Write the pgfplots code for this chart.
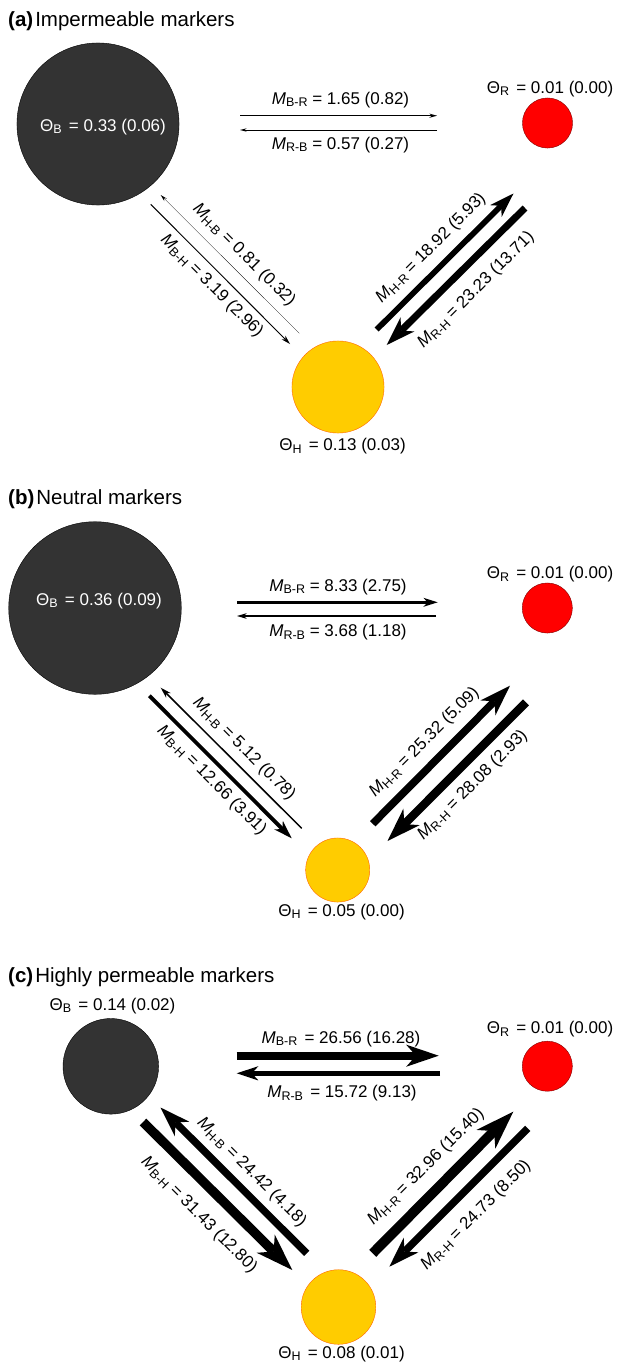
\documentclass[border=0pt]{standalone}
\usepackage{pgfplots}
\pgfplotsset{compat=1.18}
\usepackage{pgfplotstable}
\usetikzlibrary{arrows.meta}
\usepackage{fontspec}
\setmainfont{Liberation Sans}

\definecolor{colB}{HTML}{333333}
\definecolor{colR}{HTML}{FF0000}
\definecolor{colRline}{HTML}{800000}
\definecolor{colH}{HTML}{FFCC00}
\definecolor{colHline}{HTML}{FF6600}

\newcommand\sub[1]{\raisebox{-0.32ex}{\fontsize{12.5}{13}\selectfont #1}}
\newcommand\lab{\fontsize{17}{20}\selectfont}
\newcommand\ttl{\fontsize{20.5}{24}\selectfont}

% compartment occupancies: centre (x,y), Theta and outline width
\pgfplotstableread{
x     y      theta lw
98    124    0.33  2.0
95    608    0.36  2.0
110.8 1066.3 0.14  1.2
}\nodeB
\pgfplotstableread{
x     y      theta lw
547.5 123    0.01  0.8
547.3 608    0.01  0.8
547.3 1066.2 0.01  0.8
}\nodeR
\pgfplotstableread{
x     y      theta lw
338   387    0.13  1.0
337.7 870    0.05  1.0
338.5 1307   0.08  1.0
}\nodeH

\tikzset{
  lbl/.style={font=\lab, inner sep=0pt},
  ttlnode/.style={font=\ttl, inner sep=0pt, anchor=base west},
}

\pgfplotsset{
  compartment/.style n args={2}{scatter, only marks, mark=*,
    visualization depends on={23.3+175*\thisrow{theta} \as \rad},
    visualization depends on={\thisrow{lw} \as \olw},
    scatter/use mapped color={draw=#2, fill=#1},
    scatter/@pre marker code/.append style={/tikz/mark size=\rad, /tikz/line width=\olw}},
  % occupancy written inside a compartment, set as a text mark so that
  % it is painted after the compartment marks
  inlabel/.style={only marks, mark=text, text mark={#1}, text mark as node=true,
    text mark style={font=\lab, text=white, anchor=base, inner sep=0pt}},
  % migration rate M sets shaft width and head size
  flow/.style={
    /utils/exec={%
      \pgfmathsetmacro\flowlw{0.3*#1}%
      \pgfmathsetmacro\flowhl{6+#1}%
      \pgfmathsetmacro\flowhw{3+0.72*#1}%
      \pgfmathsetmacro\flowin{0.3*(6+#1)}},
    draw=black, no markers, line width=\flowlw pt,
    -{Stealth[length=\flowhl pt, width=\flowhw pt, inset=\flowin pt, line width=0pt]}},
}

\begin{document}
\begin{tikzpicture}
\begin{axis}[x=1pt, y=1pt, xmin=0, xmax=616, ymin=0, ymax=1363,
  y dir=reverse, hide axis, clip=false]

\addplot[draw=none, forget plot] coordinates {(0,0) (616,1363)};

% ---------- (a) impermeable markers ----------
\addplot[flow=1.65]  coordinates {(240,115.7) (437,115.7)};
\addplot[flow=0.57]  coordinates {(437,130) (240,130)};
\addplot[flow=0.81]  coordinates {(299.3,333.3) (160.7,195)};
\addplot[flow=3.19]  coordinates {(150.7,204.3) (290,344)};
\addplot[flow=18.92] coordinates {(376.7,329.5) (513.5,193.5)};
\addplot[flow=23.23] coordinates {(525,208) (386.7,345)};

% ---------- (b) neutral markers ----------
\addplot[flow=8.33]  coordinates {(237,602.3) (437.7,602.3)};
\addplot[flow=3.68]  coordinates {(436,616) (237,616)};
\addplot[flow=5.12]  coordinates {(301.7,828.3) (160.7,687.7)};
\addplot[flow=12.66] coordinates {(149.3,695.7) (291.7,838.3)};
\addplot[flow=25.32] coordinates {(372.7,823.7) (510,685.7)};
\addplot[flow=28.08] coordinates {(526,702.3) (387.5,841)};

% ---------- (c) highly permeable markers ----------
\addplot[flow=26.56] coordinates {(236.7,1055.7) (438.7,1055.7)};
\addplot[flow=15.72] coordinates {(440,1073.3) (236.7,1073.3)};
\addplot[flow=24.42] coordinates {(306.7,1253.3) (160.5,1107.5)};
\addplot[flow=31.43] coordinates {(143,1122) (292.3,1270)};
\addplot[flow=32.96] coordinates {(372.7,1253.3) (513.3,1111.7)};
\addplot[flow=24.73] coordinates {(527.7,1128.3) (389.3,1266.7)};

% compartments
\addplot[compartment={colB}{black}] table[x=x, y=y] {\nodeB};
\addplot[compartment={colR}{colRline}] table[x=x, y=y] {\nodeR};
\addplot[compartment={colH}{colHline}] table[x=x, y=y] {\nodeH};

\addplot[inlabel={Θ\sub{B}\hspace{0.15em} = 0.33 (0.06)}] coordinates {(103,131)};
\addplot[inlabel={Θ\sub{B}\hspace{0.15em} = 0.36 (0.09)}] coordinates {(99,605)};

% ---------- labels (a) ----------
\node[ttlnode] at (axis cs:8,26) {\textbf{(a)}\kern2pt Impermeable markers};
\node[lbl, anchor=base] at (axis cs:550,93) {Θ\sub{R}\hspace{0.15em} = 0.01 (0.00)};
\node[lbl, anchor=base] at (axis cs:342.5,450.7) {Θ\sub{H}\hspace{0.15em} = 0.13 (0.03)};
\node[lbl, anchor=base] at (axis cs:340.5,104) {\textit{M}\sub{B-R} = 1.65 (0.82)};
\node[lbl, anchor=base] at (axis cs:340.5,149) {\textit{M}\sub{R-B} = 0.57 (0.27)};
\node[lbl, rotate=-45] at (axis cs:244,255) {\textit{M}\sub{H-B} = 0.81 (0.32)};
\node[lbl, rotate=-45] at (axis cs:211.7,286) {\textit{M}\sub{B-H} = 3.19 (2.96)};
\node[lbl, rotate=45] at (axis cs:431,248) {\textit{M}\sub{H-R} = 18.92 (5.93)};
\node[lbl, rotate=45] at (axis cs:476,290) {\textit{M}\sub{R-H} = 23.23 (13.71)};

% ---------- labels (b) ----------
\node[ttlnode] at (axis cs:8,504.3) {\textbf{(b)}\kern2pt Neutral markers};
\node[lbl, anchor=base] at (axis cs:550,578.3) {Θ\sub{R}\hspace{0.15em} = 0.01 (0.00)};
\node[lbl, anchor=base] at (axis cs:341.5,916) {Θ\sub{H}\hspace{0.15em} = 0.05 (0.00)};
\node[lbl, anchor=base] at (axis cs:338,591) {\textit{M}\sub{B-R} = 8.33 (2.75)};
\node[lbl, anchor=base] at (axis cs:338,636.7) {\textit{M}\sub{R-B} = 3.68 (1.18)};
\node[lbl, rotate=-45] at (axis cs:244,749) {\textit{M}\sub{H-B} = 5.12 (0.78)};
\node[lbl, rotate=-45] at (axis cs:211.7,780.7) {\textit{M}\sub{B-H} = 12.66 (3.91)};
\node[lbl, rotate=45] at (axis cs:424.3,742.3) {\textit{M}\sub{H-R} = 25.32 (5.09)};
\node[lbl, rotate=45] at (axis cs:472.7,785) {\textit{M}\sub{R-H} = 28.08 (2.93)};

% ---------- labels (c) ----------
\node[ttlnode] at (axis cs:8,982) {\textbf{(c)}\kern2pt Highly permeable markers};
\node[lbl, anchor=base] at (axis cs:112.5,1010) {Θ\sub{B}\hspace{0.15em} = 0.14 (0.02)};
\node[lbl, anchor=base] at (axis cs:550,1033.3) {Θ\sub{R}\hspace{0.15em} = 0.01 (0.00)};
\node[lbl, anchor=base] at (axis cs:341.5,1358) {Θ\sub{H}\hspace{0.15em} = 0.08 (0.01)};
\node[lbl, anchor=base] at (axis cs:341,1043) {\textit{M}\sub{B-R}\hspace{0.15em} = 26.56 (16.28)};
\node[lbl, anchor=base] at (axis cs:342,1097.5) {\textit{M}\sub{R-B}\hspace{0.15em} = 15.72 (9.13)};
\node[lbl, rotate=-45] at (axis cs:251.7,1172.3) {\textit{M}\sub{H-B} = 24.42 (4.18)};
\node[lbl, rotate=-45] at (axis cs:199,1215) {\textit{M}\sub{B-H} = 31.43 (12.80)};
\node[lbl, rotate=45] at (axis cs:426,1166.7) {\textit{M}\sub{H-R} = 32.96 (15.40)};
\node[lbl, rotate=45] at (axis cs:476,1215) {\textit{M}\sub{R-H} = 24.73 (8.50)};

\end{axis}
\end{tikzpicture}
\end{document}
